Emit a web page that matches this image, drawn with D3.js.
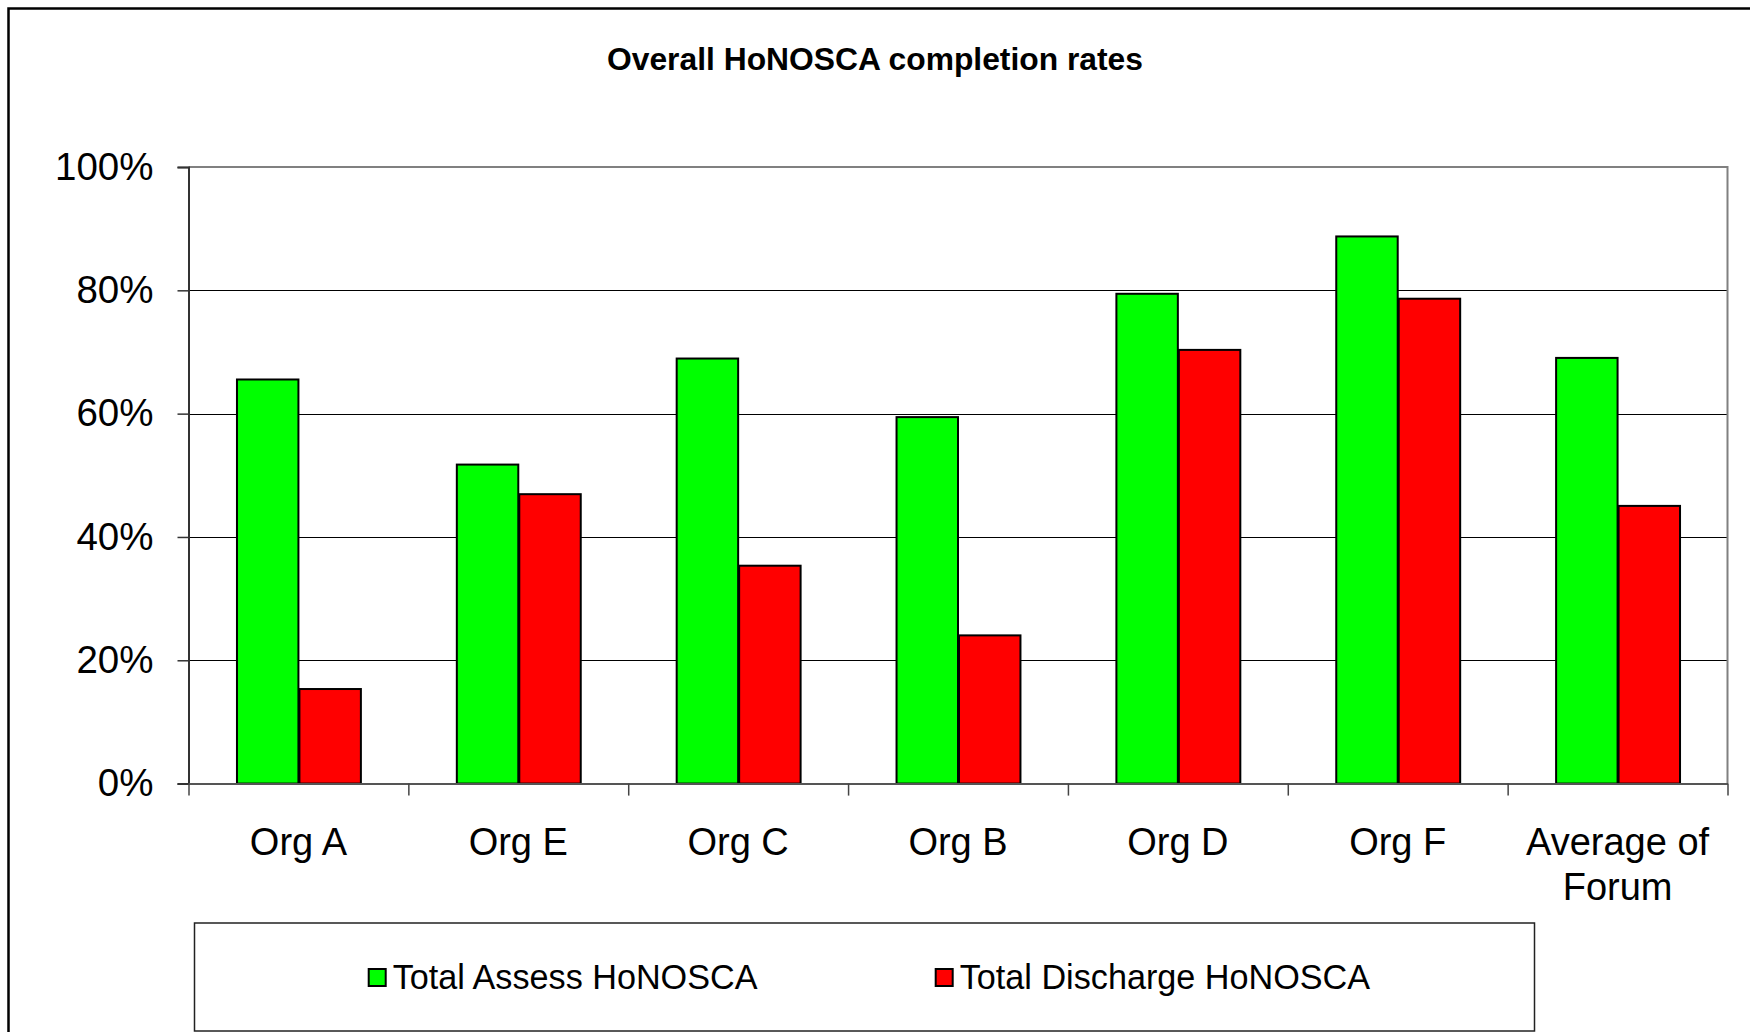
<!DOCTYPE html>
<html>
<head>
<meta charset="utf-8">
<script src="https://cdn.jsdelivr.net/npm/d3@7"></script>
<style>
  body { margin: 0; background: #fff; }
  svg { display: block; font-family: "Liberation Sans", Arial, sans-serif; }
</style>
</head>
<body>
<div class="canvas"></div>
<script>
// data
const categories = ['Org A', 'Org E', 'Org C', 'Org B', 'Org D', 'Org F', 'Average of Forum'];
const seriesNames = ['Total Assess HoNOSCA', 'Total Discharge HoNOSCA'];
const assessValues = [0.657, 0.519, 0.691, 0.596, 0.796, 0.889, 0.692];
const dischargeValues = [0.155, 0.471, 0.355, 0.242, 0.705, 0.788, 0.452];
const yTicks = [0, 0.2, 0.4, 0.6, 0.8, 1];
const colours = ['#00ff00', '#ff0000'];

const width = 1750, height = 1032;

const svg = d3.select('.canvas')
  .append('svg')
    .attr('width', width)
    .attr('height', height);

// outer chart frame (runs off the right and bottom of the picture)
svg.append('path')
  .attr('d', `M8.5,${height + 10} V8.5 H${width + 10}`)
  .attr('fill', 'none')
  .attr('stroke', '#000')
  .attr('stroke-width', 2.5);

// title
svg.append('text')
  .attr('x', 875)
  .attr('y', 70)
  .attr('text-anchor', 'middle')
  .attr('font-size', 31.8)
  .attr('font-weight', 'bold')
  .text('Overall HoNOSCA completion rates');

// plot area
const margin = {top: 167, left: 188.5, right: 22.5, bottom: 248.4};
const graphWidth = width - margin.left - margin.right;
const graphHeight = height - margin.top - margin.bottom;

const graph = svg.append('g')
  .attr('transform', `translate(${margin.left}, ${margin.top})`);

const y = d3.scaleLinear()
  .domain([0, 1])
  .range([graphHeight, 0]);

const x0 = d3.scaleBand()
  .domain(categories)
  .range([0, graphWidth]);

const x1 = d3.scaleBand()
  .domain(seriesNames)
  .range([0, x0.bandwidth()])
  .paddingInner(0)
  .paddingOuter(0.76);

// gridlines
graph.append('g')
  .selectAll('line')
  .data(yTicks.filter(d => d > 0 && d < 1))
  .enter()
  .append('line')
    .attr('x1', 0)
    .attr('x2', graphWidth)
    .attr('y1', d => Math.round(y(d)) + 0.5)
    .attr('y2', d => Math.round(y(d)) + 0.5)
    .attr('stroke', '#000')
    .attr('stroke-width', 1.2);

// plot border top + right
graph.append('path')
  .attr('d', `M0,${y(1)} H${graphWidth} V${graphHeight}`)
  .attr('fill', 'none')
  .attr('stroke', '#808080')
  .attr('stroke-width', 2);

// bars
const rows = categories.map((c, i) => ({
  name: c,
  values: [assessValues[i], dischargeValues[i]]
}));

const groups = graph.selectAll('g.cat')
  .data(rows)
  .enter()
  .append('g')
    .attr('class', 'cat')
    .attr('transform', d => `translate(${x0(d.name)}, 0)`);

groups.selectAll('rect')
  .data(d => d.values.map((v, j) => ({series: seriesNames[j], value: v, j})))
  .enter()
  .append('rect')
    .attr('x', d => x1(d.series) + 1)
    .attr('y', d => y(d.value) + 1)
    .attr('width', x1.bandwidth() - 1)
    .attr('height', d => graphHeight - y(d.value) - 1)
    .attr('fill', d => colours[d.j])
    .attr('stroke', '#000')
    .attr('stroke-width', 2);

// y axis
const yAxis = d3.axisLeft(y)
  .tickValues(yTicks)
  .tickSize(11)
  .tickPadding(24)
  .tickFormat(d3.format('.0%'));

const yAxisGroup = graph.append('g').call(yAxis);
yAxisGroup.select('.domain').attr('stroke', '#333').attr('stroke-width', 2);
yAxisGroup.selectAll('line').attr('stroke', '#333').attr('stroke-width', 1.5);
yAxisGroup.selectAll('text')
  .attr('font-size', 38.5)
  .attr('font-family', '"Liberation Sans", Arial, sans-serif')
  .attr('fill', '#000');

// x axis: ticks on category edges
const xEdge = d3.scaleLinear()
  .domain([0, categories.length])
  .range([0, graphWidth]);

const xAxis = d3.axisBottom(xEdge)
  .ticks(categories.length)
  .tickSize(12)
  .tickSizeOuter(0)
  .tickFormat('');

const xAxisGroup = graph.append('g')
  .attr('transform', `translate(0, ${graphHeight})`)
  .call(xAxis);
xAxisGroup.select('.domain').attr('stroke', '#555').attr('stroke-width', 2);
xAxisGroup.selectAll('line').attr('stroke', '#444').attr('stroke-width', 1.5);

// category labels (wrapped within band)
const labels = graph.append('g')
  .selectAll('text')
  .data(categories)
  .enter()
  .append('text')
    .attr('x', d => x0(d) + x0.bandwidth() / 2)
    .attr('y', graphHeight + 71)
    .attr('text-anchor', 'middle')
    .attr('font-size', 38)
    .attr('fill', '#000')
    .text(d => d);

labels.each(function(d) {
  const el = d3.select(this);
  if (this.getComputedTextLength() <= x0.bandwidth() - 10) return;
  const words = d.split(' ');
  const cx = el.attr('x');
  el.text(null);
  let line = [];
  let tspan = el.append('tspan').attr('x', cx);
  words.forEach(w => {
    line.push(w);
    tspan.text(line.join(' '));
    if (tspan.node().getComputedTextLength() > x0.bandwidth() - 10 && line.length > 1) {
      line.pop();
      tspan.text(line.join(' '));
      line = [w];
      tspan = el.append('tspan').attr('x', cx).attr('dy', 45).text(w);
    }
  });
});

// legend
const legendBox = {x: 194.5, y: 923, w: 1340, h: 108};
const legend = svg.append('g');

legend.append('rect')
  .attr('x', legendBox.x)
  .attr('y', legendBox.y)
  .attr('width', legendBox.w)
  .attr('height', legendBox.h)
  .attr('fill', '#fff')
  .attr('stroke', '#222')
  .attr('stroke-width', 1.5);

const items = legend.selectAll('g.item')
  .data(seriesNames)
  .enter()
  .append('g')
    .attr('class', 'item');

items.append('rect')
  .attr('x', 0)
  .attr('y', -20)
  .attr('width', 17)
  .attr('height', 17)
  .attr('fill', (d, i) => colours[i])
  .attr('stroke', '#000')
  .attr('stroke-width', 2);

items.append('text')
  .attr('x', 24)
  .attr('y', 0)
  .attr('font-size', 34.2)
  .attr('fill', '#000')
  .text(d => d);

// place items side by side, centred in the box
const gap = 178;
const widths = [];
items.each(function() { widths.push(this.getBBox().width); });
const total = d3.sum(widths) + gap * (widths.length - 1);
let cursor = legendBox.x + (legendBox.w - total) / 2 + 5;
items.attr('transform', (d, i) => {
  const t = `translate(${cursor}, 989)`;
  cursor += widths[i] + gap;
  return t;
});
</script>
</body>
</html>
